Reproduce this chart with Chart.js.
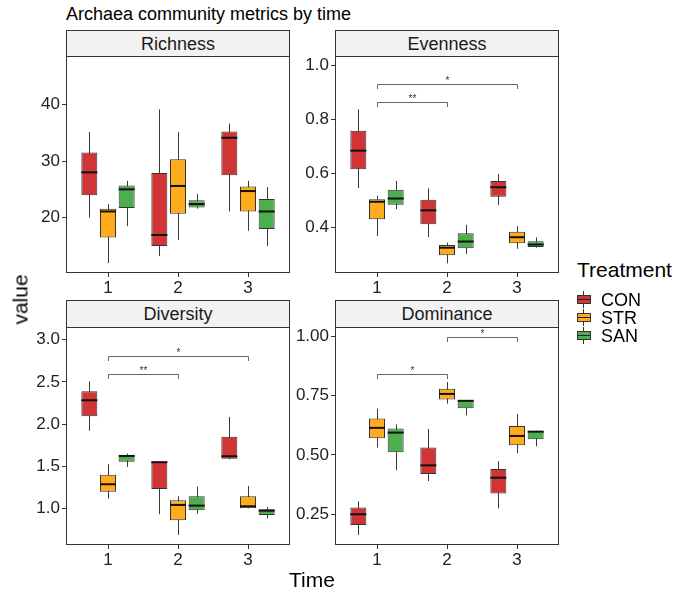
<!DOCTYPE html>
<html><head><meta charset="utf-8">
<script src="https://cdn.jsdelivr.net/npm/chart.js@4.4.1/dist/chart.umd.min.js"></script>
<style>
body{margin:0;background:#fff;width:691px;height:599px;position:relative;overflow:hidden;font-family:"Liberation Sans",Arial,sans-serif;color:#000}
.t{position:absolute;white-space:nowrap}
canvas{position:absolute}
.strip{position:absolute;box-sizing:border-box;border:1px solid #333;background:#F2F2F2;display:flex;align-items:center;justify-content:center;font-size:18px;color:#1a1a1a;line-height:18px}
.key{position:absolute;width:14px;height:17px}
.key .wh{position:absolute;left:6px;top:0;width:1px;height:17px;background:#333}
.key .bx{position:absolute;left:0;top:4px;width:14px;height:9px;box-sizing:border-box;border:1px solid #333}
.key .md{position:absolute;left:0;top:3px;width:12px;height:1px;background:#222}
.lab{position:absolute;font-size:18px;line-height:18px;left:601px}
</style></head><body>
<div class="t" style="left:66px;top:5px;font-size:18px;line-height:18px">Archaea community metrics by time</div>

<div class="strip" style="left:66px;top:30px;width:224px;height:27px">Richness</div>
<div class="strip" style="left:335px;top:30px;width:224px;height:27px">Evenness</div>
<div class="strip" style="left:66px;top:300px;width:224px;height:28px">Diversity</div>
<div class="strip" style="left:335px;top:300px;width:224px;height:28px">Dominance</div>

<canvas id="c1" width="290" height="247" style="left:0px;top:56px"></canvas>
<canvas id="c2" width="290" height="247" style="left:269px;top:56px"></canvas>
<canvas id="c3" width="290" height="248" style="left:0px;top:327px"></canvas>
<canvas id="c4" width="290" height="248" style="left:269px;top:327px"></canvas>

<div class="t" style="left:-30px;top:289px;width:100px;text-align:center;font-size:21px;line-height:21px;transform:rotate(-90deg)">value</div>
<div class="t" style="left:262px;top:569px;width:100px;text-align:center;font-size:21px;line-height:21px">Time</div>

<div class="t" style="left:577px;top:259px;font-size:21px;line-height:21px">Treatment</div>
<div class="key" style="left:577px;top:291px"><div class="wh"></div><div class="bx" style="background:#D03434"><div class="md"></div></div></div>
<div class="key" style="left:577px;top:309px"><div class="wh"></div><div class="bx" style="background:#FFAC1C"><div class="md"></div></div></div>
<div class="key" style="left:577px;top:327px"><div class="wh"></div><div class="bx" style="background:#4CAE4C"><div class="md"></div></div></div>
<div class="lab" style="top:291px">CON</div>
<div class="lab" style="top:309px">STR</div>
<div class="lab" style="top:327px">SAN</div>

<script>
const times = [1, 2, 3];
const treatments = ['CON', 'STR', 'SAN'];
const treatmentColors = ['#D03434', '#FFAC1C', '#4CAE4C'];

// five-number summaries [min, q1, median, q3, max] for time 1, 2, 3
const richnessCON = [[20.0, 23.95, 28.0, 31.5, 35.1], [13.25, 15.0, 16.95, 27.9, 39.1], [21.1, 27.5, 34.1, 35.2, 36.6]];
const richnessSTR = [[12.0, 16.5, 21.1, 21.6, 22.4], [16.1, 20.7, 25.6, 30.3, 35.1], [17.7, 21.1, 24.7, 25.5, 26.5]];
const richnessSAN = [[18.5, 21.7, 25.0, 25.7, 26.5], [21.6, 21.8, 22.4, 23.1, 24.2], [15.0, 18.0, 21.1, 23.3, 25.4]];

const evennessCON = [[0.545, 0.615, 0.684, 0.758, 0.838], [0.362, 0.410, 0.462, 0.501, 0.544], [0.482, 0.513, 0.548, 0.571, 0.597]];
const evennessSTR = [[0.367, 0.429, 0.494, 0.503, 0.516], [0.265, 0.295, 0.323, 0.333, 0.342], [0.319, 0.340, 0.362, 0.382, 0.403]];
const evennessSAN = [[0.466, 0.483, 0.506, 0.539, 0.572], [0.300, 0.321, 0.346, 0.377, 0.408], [0.323, 0.326, 0.335, 0.347, 0.361]];

const diversityCON = [[1.923, 2.094, 2.283, 2.389, 2.508], [0.934, 1.233, 1.550, 1.556, 1.556], [1.585, 1.592, 1.620, 1.852, 2.085]];
const diversitySTR = [[1.118, 1.201, 1.289, 1.402, 1.525], [0.689, 0.863, 1.044, 1.099, 1.147], [1.005, 1.005, 1.028, 1.147, 1.269]];
const diversitySAN = [[1.494, 1.556, 1.624, 1.632, 1.651], [0.941, 0.981, 1.036, 1.147, 1.260], [0.886, 0.925, 0.976, 0.993, 1.020]];

const dominanceCON = [[0.163, 0.205, 0.250, 0.278, 0.305], [0.390, 0.420, 0.456, 0.531, 0.609], [0.275, 0.337, 0.404, 0.441, 0.474]];
const dominanceSTR = [[0.531, 0.570, 0.614, 0.654, 0.695], [0.716, 0.734, 0.757, 0.779, 0.807], [0.508, 0.541, 0.580, 0.622, 0.673]];
const dominanceSAN = [[0.435, 0.511, 0.594, 0.611, 0.629], [0.667, 0.697, 0.728, 0.730, 0.730], [0.536, 0.566, 0.598, 0.600, 0.602]];

const richnessTicks = [20, 30, 40];
const evennessTicks = [0.4, 0.6, 0.8, 1.0];
const diversityTicks = [1.0, 1.5, 2.0, 2.5, 3.0];
const dominanceTicks = [0.25, 0.50, 0.75, 1.00];

// significance brackets [fromTime, toTime, yValue, label]
const evennessSig = [[1, 2, 0.864, '**'], [1, 3, 0.932, '*']];
const diversitySig = [[1, 2, 2.590, '**'], [1, 3, 2.807, '*']];
const dominanceSig = [[1, 2, 0.840, '*'], [2, 3, 0.996, '*']];

Chart.defaults.font.family = "'Liberation Sans', Arial, sans-serif";

const boxPlugin = {
  id: 'boxplot',
  beforeDatasetsDraw(chart) {
    const ctx = chart.ctx, y = chart.scales.y;
    ctx.save();
    ctx.strokeStyle = '#3a3a3a'; ctx.lineWidth = 1;
    chart.data.datasets.forEach((ds, i) => {
      const meta = chart.getDatasetMeta(i);
      ds.stats.forEach((s, j) => {
        const el = meta.data[j];
        const x = Math.round(el.x) + 0.5;
        ctx.beginPath();
        ctx.moveTo(x, y.getPixelForValue(s[0]));
        ctx.lineTo(x, y.getPixelForValue(s[4]));
        ctx.stroke();
      });
    });
    ctx.restore();
  },
  afterDatasetsDraw(chart) {
    const ctx = chart.ctx, y = chart.scales.y, xs = chart.scales.x, a = chart.chartArea;
    ctx.save();
    ctx.strokeStyle = '#111'; ctx.lineWidth = 2;
    chart.data.datasets.forEach((ds, i) => {
      const meta = chart.getDatasetMeta(i);
      ds.stats.forEach((s, j) => {
        const el = meta.data[j];
        const py = y.getPixelForValue(s[2]);
        ctx.beginPath();
        ctx.moveTo(el.x - el.width / 2, py);
        ctx.lineTo(el.x + el.width / 2, py);
        ctx.stroke();
      });
    });
    const sig = chart.config.options.sigBrackets || [];
    ctx.strokeStyle = '#666'; ctx.lineWidth = 1;
    ctx.fillStyle = '#333'; ctx.font = "10px 'Liberation Sans', Arial, sans-serif";
    ctx.textAlign = 'center'; ctx.textBaseline = 'alphabetic';
    sig.forEach(b => {
      const x1 = Math.round(xs.getPixelForValue(b[0])) + 0.5;
      const x2 = Math.round(xs.getPixelForValue(b[1])) + 0.5;
      const py = Math.round(y.getPixelForValue(b[2])) + 0.5;
      ctx.beginPath();
      ctx.moveTo(x1, py + 4.5); ctx.lineTo(x1, py); ctx.lineTo(x2, py); ctx.lineTo(x2, py + 4.5);
      ctx.stroke();
      ctx.fillText(b[3], (x1 + x2) / 2, py - 1);
    });
    ctx.strokeStyle = '#333'; ctx.lineWidth = 1;
    ctx.strokeRect(a.left + 0.5, a.top + 0.5, a.right - a.left - 1, a.bottom - a.top - 1);
    ctx.restore();
  }
};

function makeChart(id, series, ticks, decimals, yMin, yMax, sig) {
  new Chart(document.getElementById(id), {
    type: 'bar',
    data: {
      datasets: series.map((stats, k) => ({
        label: treatments[k],
        stats: stats,
        data: stats.map((s, j) => ({ x: times[j], y: [s[1], s[3]] })),
        backgroundColor: treatmentColors[k],
        borderColor: '#333',
        borderWidth: 1,
        borderSkipped: false,
        categoryPercentage: 0.8,
        barPercentage: 0.857
      }))
    },
    options: {
      responsive: false,
      animation: false,
      events: [],
      sigBrackets: sig,
      layout: { padding: 0, autoPadding: false },
      plugins: { legend: { display: false }, tooltip: { enabled: false }, title: { display: false } },
      scales: {
        x: {
          type: 'linear', min: 0.4, max: 3.6, offset: false,
          afterBuildTicks: s => { s.ticks = times.map(v => ({ value: v })); },
          afterFit: s => { s.height = 30; s.paddingLeft = 0; s.paddingRight = 0; s.paddingTop = 0; s.paddingBottom = 0; },
          grid: { drawOnChartArea: false, drawTicks: true, tickLength: 4, tickColor: '#333', offset: false },
          border: { display: false },
          ticks: { color: '#222', font: { size: 17 }, padding: 1, maxRotation: 0, autoSkip: false, callback: v => String(v) }
        },
        y: {
          type: 'linear', min: yMin, max: yMax,
          afterBuildTicks: s => { s.ticks = ticks.map(v => ({ value: v })); },
          afterFit: s => { s.width = 66; s.paddingTop = 0; s.paddingBottom = 0; s.paddingLeft = 0; s.paddingRight = 0; },
          grid: { drawOnChartArea: false, drawTicks: true, tickLength: 4, tickColor: '#333' },
          border: { display: false },
          ticks: { color: '#222', font: { size: 17 }, padding: 2, autoSkip: false, callback: v => Number(v).toFixed(decimals) }
        }
      }
    },
    plugins: [boxPlugin]
  });
}

makeChart('c1', [richnessCON, richnessSTR, richnessSAN], richnessTicks, 0, 10.25, 48.52, []);
makeChart('c2', [evennessCON, evennessSTR, evennessSAN], evennessTicks, 1, 0.229, 1.036, evennessSig);
makeChart('c3', [diversityCON, diversitySTR, diversitySAN], diversityTicks, 1, 0.570, 3.150, diversitySig);
makeChart('c4', [dominanceCON, dominanceSTR, dominanceSAN], dominanceTicks, 2, 0.1205, 1.039, dominanceSig);
</script>
</body></html>
